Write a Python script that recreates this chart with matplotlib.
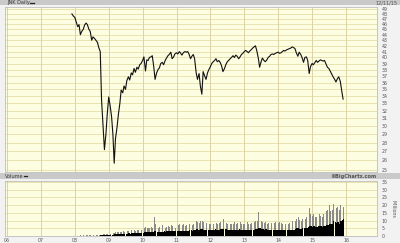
import matplotlib
matplotlib.use("Agg")
import matplotlib.pyplot as plt
import matplotlib.ticker as mticker
from matplotlib.patches import Rectangle
from matplotlib.lines import Line2D
import pandas as pd
import numpy as np

# ---------------- data ----------------
start_date = "2007-12-01"   # semi-monthly samples (1st and 15th)

price = [
    # Dec 2007
    48.0, 47.6,
    # 2008
    47.3, 46.5, 45.5, 45.9, 44.0, 44.6, 45.0, 45.8, 46.2, 45.9, 45.0, 44.6,
    43.0, 43.6, 43.3, 43.0, 42.6, 41.7, 41.0, 33.5, 30.0, 27.2, 29.0, 31.5,
    # 2009
    33.9, 32.8, 31.2, 29.0, 25.7, 28.5, 29.9, 31.5, 33.0, 34.9, 34.5, 35.5,
    35.0, 36.3, 36.9, 36.4, 37.5, 37.2, 38.2, 37.6, 38.4, 38.1, 38.8, 39.0,
    # 2010
    39.5, 40.1, 37.8, 39.6, 39.5, 40.0, 40.1, 40.3, 38.5, 36.5, 37.5, 38.0,
    38.3, 39.0, 39.2, 38.8, 39.5, 39.9, 40.3, 40.5, 40.9, 39.8, 40.1, 40.6,
    # 2011
    40.8, 40.6, 41.0, 40.7, 40.4, 40.8, 41.0, 40.9, 41.0, 40.6, 39.8, 40.2,
    40.5, 39.8, 37.5, 36.5, 37.4, 35.5, 34.3, 37.7, 37.0, 36.5, 37.5, 38.0,
    # 2012
    38.5, 39.0, 39.3, 39.5, 39.8, 39.3, 39.5, 39.2, 38.6, 37.7, 38.2, 38.8,
    39.3, 39.5, 39.8, 40.0, 40.3, 40.0, 40.4, 40.2, 39.8, 40.1, 40.5, 40.7,
    # 2013
    41.0, 41.2, 41.0, 40.8, 41.1, 41.3, 41.6, 41.8, 42.0, 41.2, 39.9, 38.4,
    39.3, 39.9, 39.5, 39.3, 39.6, 40.0, 40.2, 40.5, 40.6, 40.5, 40.7, 40.8,
    # 2014
    40.9, 40.7, 40.8, 41.0, 41.2, 41.1, 41.3, 41.4, 41.5, 41.6, 41.8, 41.7,
    41.5, 40.8, 40.2, 40.9, 40.5, 40.0, 39.2, 40.0, 40.1, 39.5, 37.4, 38.5,
    # 2015
    39.0, 38.8, 39.2, 39.5, 39.2, 39.4, 39.6, 39.5, 39.4, 39.5, 38.9, 38.4,
    38.2, 37.8, 37.3, 36.9, 36.5, 36.1, 36.6, 36.9, 36.2, 34.9, 33.6,
]

vol_typ = [
    0.1, 0.1,
    0.1, 0.1, 0.15, 0.1, 0.2, 0.15, 0.15, 0.2, 0.2, 0.15, 0.2, 0.25,
    0.2, 0.2, 0.25, 0.2, 0.3, 0.3, 0.4, 0.5, 0.4, 0.5, 0.6, 0.5,
    0.6, 0.7, 0.8, 0.9, 1.0, 1.0, 1.1, 1.2, 1.3, 1.2, 1.5, 1.4,
    1.6, 1.5, 1.7, 1.6, 1.8, 1.7, 1.9, 1.8, 2.0, 1.9, 2.1, 2.0,
    2.2, 2.4, 2.6, 2.3, 2.5, 2.4, 2.6, 2.5, 3.5, 3.2, 2.8, 2.6,
    2.7, 2.8, 2.9, 3.0, 2.8, 3.0, 3.1, 3.0, 3.2, 3.3, 3.1, 3.0,
    3.2, 3.3, 3.4, 3.2, 3.3, 3.5, 3.4, 3.3, 3.5, 3.6, 3.7, 3.5,
    3.6, 3.8, 4.5, 4.2, 4.0, 4.4, 4.6, 4.2, 4.0, 4.1, 3.9, 3.8,
    4.0, 4.2, 4.1, 4.3, 4.2, 4.0, 4.1, 4.3, 4.8, 4.6, 4.4, 4.3,
    4.2, 4.1, 4.0, 3.9, 4.1, 4.2, 4.0, 4.1, 4.3, 4.2, 4.0, 3.8,
    4.0, 4.1, 4.2, 4.0, 3.9, 4.1, 4.0, 4.2, 4.3, 4.6, 5.2, 5.0,
    4.6, 4.4, 4.2, 4.3, 4.1, 4.0, 4.2, 4.1, 3.9, 4.0, 4.1, 3.8,
    4.0, 4.2, 4.1, 4.0, 3.9, 4.0, 3.8, 3.9, 4.0, 4.1, 4.2, 4.0,
    4.5, 5.0, 5.2, 4.8, 4.6, 5.0, 5.5, 5.2, 5.4, 5.6, 6.5, 6.2,
    6.0, 6.2, 5.8, 6.0, 6.3, 6.5, 6.2, 6.0, 6.4, 6.6, 7.0, 7.4,
    7.8, 7.5, 8.0, 9.5, 9.0, 8.5, 8.8, 8.0, 9.5, 10.5, 11.0,
]

vol_max = [
    0.3, 0.2,
    0.3, 0.3, 0.4, 0.3, 0.4, 0.3, 0.4, 0.4, 0.5, 0.4, 0.5, 0.5,
    0.5, 0.4, 0.6, 0.5, 0.8, 0.7, 0.9, 1.2, 1.0, 1.1, 1.3, 1.2,
    1.5, 1.6, 1.8, 2.0, 2.2, 2.3, 2.5, 2.6, 2.8, 2.5, 3.0, 2.8,
    3.2, 3.0, 3.5, 3.2, 3.6, 3.4, 3.8, 3.5, 4.0, 3.8, 4.2, 4.0,
    4.5, 5.0, 6.0, 5.0, 5.5, 5.0, 6.0, 5.5, 12.0, 7.5, 6.0, 5.5,
    6.0, 6.5, 7.0, 6.0, 5.5, 6.0, 6.5, 6.0, 7.0, 6.5, 6.0, 5.5,
    6.5, 7.0, 7.5, 6.5, 7.0, 7.5, 6.5, 7.0, 7.0, 7.5, 8.0, 7.0,
    7.5, 8.0, 10.0, 9.0, 8.5, 9.5, 10.0, 9.0, 8.0, 8.5, 8.0, 7.5,
    8.0, 8.5, 8.0, 9.0, 8.5, 8.0, 8.5, 9.0, 18.0, 11.0, 9.0, 8.5,
    8.0, 8.5, 8.0, 7.5, 8.0, 9.0, 8.0, 8.5, 9.5, 9.0, 8.0, 7.5,
    8.0, 8.5, 9.0, 8.0, 7.5, 8.5, 8.0, 9.0, 9.5, 10.0, 15.5, 12.0,
    10.0, 9.0, 8.5, 9.0, 8.0, 8.5, 9.0, 8.5, 8.0, 8.5, 9.0, 8.0,
    8.5, 9.0, 8.5, 8.0, 7.5, 8.0, 7.5, 8.0, 8.5, 9.0, 9.5, 8.5,
    10.0, 11.0, 12.0, 10.5, 10.0, 11.0, 12.0, 11.0, 12.0, 13.0, 18.0, 14.0,
    13.0, 14.0, 12.0, 12.5, 13.0, 14.0, 13.0, 12.0, 14.0, 15.0, 16.0, 17.0,
    20.0, 16.0, 17.0, 21.0, 26.5, 18.0, 19.0, 17.0, 20.0, 22.0, 19.0,
]

price_ticks = list(range(25, 50))
vol_ticks = [0, 5, 10, 15, 20, 25, 30, 35]
year_ticks = list(range(2006, 2017))
year_labels = ["06", "07", "08", "09", "10", "11", "12", "13", "14", "15", "16"]
title = "JNK Daily"
date_label = "12/11/15"
vol_title = "Volume"
credit = "\u00a9BigCharts.com"
vol_unit = "Millions"

# ---------------- layout ----------------
W, H = 400, 243
fig = plt.figure(figsize=(W / 100, H / 100), dpi=100)
fig.patch.set_facecolor("#f2f2f2")

def fx(px):
    return px / W

def fy(py):
    return 1 - py / H

dates = pd.date_range(start_date, periods=len(price), freq="SMS")
t = dates.year + (dates.dayofyear - 1) / 365.25

BG = "#fdfde2"
HGRID = "#e6dfa8"
VGRID = "#d9d3a6"
LBL = "#555555"

# header bars
for (y0, y1) in [(0, 5), (173, 179)]:
    fig.patches.append(Rectangle((fx(0), fy(y1)), 1, fy(y0) - fy(y1),
                                 transform=fig.transFigure, facecolor="#c9c9c9",
                                 edgecolor="none", zorder=0))
fig.text(fx(7), fy(2.8), title, fontsize=3.6, color="#333333", va="center", ha="left")
fig.lines.append(Line2D([fx(30), fx(34)], [fy(2.8), fy(2.8)], transform=fig.transFigure,
                        color="#222222", lw=0.9))
fig.text(fx(397), fy(2.8), date_label, fontsize=3.6, color="#555555", va="center", ha="right")
fig.text(fx(5), fy(176), vol_title, fontsize=3.6, color="#333333", va="center", ha="left")
fig.lines.append(Line2D([fx(24), fx(27)], [fy(176), fy(176)], transform=fig.transFigure,
                        color="#222222", lw=0.9))
fig.text(fx(376), fy(176), credit, fontsize=3.6, color="#555555", va="center",
         ha="right", fontweight="bold")

xlim = (2005.94, 2016.915)

# main price axes
ax = fig.add_axes([fx(5), fy(172), fx(377) - fx(5), fy(7) - fy(172)])
ax.set_facecolor(BG)
ax.set_yscale("log")
ax.set_ylim(24.77, 49.41)
ax.set_xlim(*xlim)
ax.plot(t, price, color="#111111", lw=0.8, zorder=3)
for yv in price_ticks:
    ax.axhline(yv, color=HGRID, lw=0.6, zorder=1)
for xv in year_ticks:
    ax.axvline(xv, color=VGRID, lw=0.7, zorder=1)
ax.yaxis.tick_right()
ax.yaxis.set_major_locator(mticker.FixedLocator(price_ticks))
ax.yaxis.set_minor_locator(mticker.NullLocator())
ax.yaxis.set_major_formatter(mticker.FixedFormatter([str(v) for v in price_ticks]))
ax.tick_params(axis="y", length=0, pad=3.5, labelsize=3.4, labelcolor=LBL)
for lab in ax.get_yticklabels():
    lab.set_horizontalalignment("left")
ax.set_xticks([])
for s in ax.spines.values():
    s.set_color("#bdbdbd")
    s.set_linewidth(0.6)

# volume axes
av = fig.add_axes([fx(5), fy(236), fx(377) - fx(5), fy(181) - fy(236)])
av.set_facecolor(BG)
av.set_xlim(*xlim)
av.set_ylim(0, 35.6)
step = 1 / 24
av.bar(t, vol_max, width=step * 0.55, color="#8a8a8a", align="edge", zorder=2, lw=0)
av.bar(t, vol_typ, width=step, color="#000000", align="edge", zorder=3, lw=0)
for yv in vol_ticks:
    av.axhline(yv, color=HGRID, lw=0.6, zorder=1)
for xv in year_ticks:
    av.axvline(xv, color=VGRID, lw=0.7, zorder=1)
av.yaxis.tick_right()
av.set_yticks(vol_ticks)
av.set_yticklabels([str(v) for v in vol_ticks])
av.tick_params(axis="y", length=0, pad=3.5, labelsize=3.4, labelcolor=LBL)
for lab in av.get_yticklabels():
    lab.set_horizontalalignment("left")
av.set_xticks(year_ticks)
av.set_xticklabels(year_labels)
av.tick_params(axis="x", length=0, pad=1.5, labelsize=3.4, labelcolor=LBL)
for s in av.spines.values():
    s.set_color("#bdbdbd")
    s.set_linewidth(0.6)
fig.text(fx(393), fy(209), vol_unit, fontsize=3.4, color=LBL, rotation=270,
         va="center", ha="center")

fig.savefig("out.png", dpi=100, facecolor=fig.get_facecolor())
